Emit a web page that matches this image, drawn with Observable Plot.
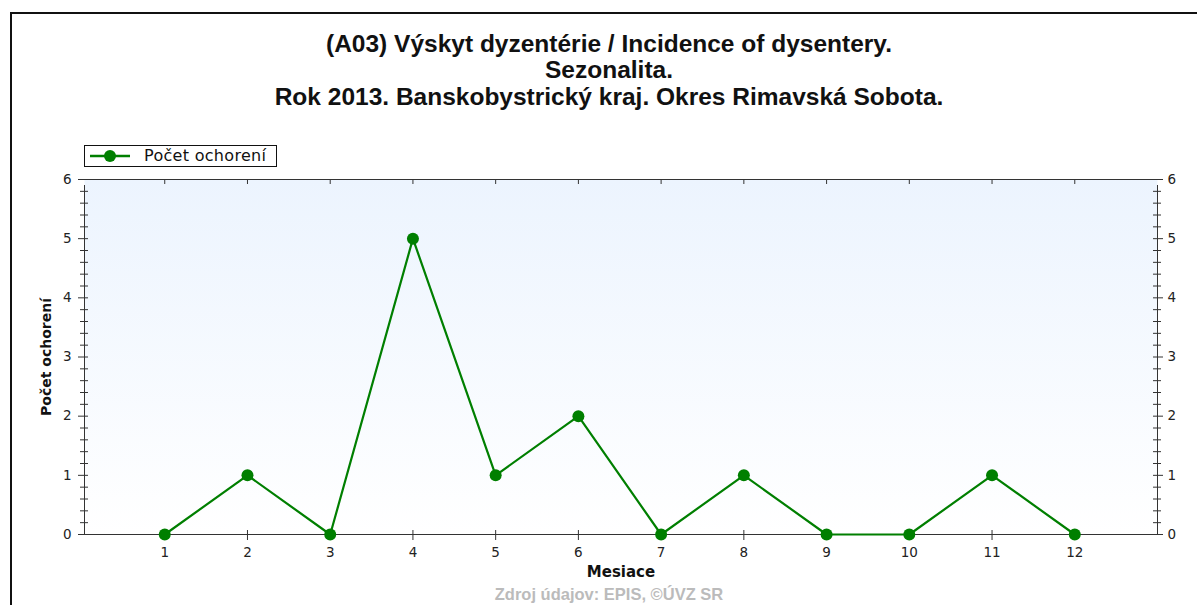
<!DOCTYPE html>
<html>
<head>
<meta charset="utf-8">
<script src="https://cdn.jsdelivr.net/npm/d3@7"></script>
<script src="https://cdn.jsdelivr.net/npm/@observablehq/plot@0.6"></script>
<style>
  html, body { margin: 0; padding: 0; background: #fff; }
  #wrap { position: relative; width: 1197px; height: 605px; overflow: hidden; font-family: "Liberation Sans", Arial, sans-serif; }
  #frame { position: absolute; left: 10px; top: 12px; width: 1300px; height: 700px; border-left: 2px solid #111; border-top: 2px solid #111; box-sizing: border-box; }
  .title { position: absolute; left: 0; width: 1218px; text-align: center; font-size: 24.5px; font-weight: bold; color: #111; white-space: nowrap; line-height: 27px; }
  #legend { position: absolute; left: 84px; top: 145px; width: 193px; height: 22px; border: 1px solid #111; background: #fff; box-sizing: border-box; }
  #legend svg { position: absolute; left: 0; top: 0; }
  #legend span { position: absolute; left: 59px; top: 0px; font-family: "DejaVu Sans", sans-serif; font-size: 16px; letter-spacing: 0.3px; color: #111; }
  #footer { position: absolute; left: 0; width: 1218px; top: 585px; text-align: center; font-size: 16.5px; line-height: 19px; font-weight: bold; color: #bbb; }
  #chart { position: absolute; left: 0; top: 0; }
</style>
</head>
<body>
<div id="wrap">
  <div id="chart"></div>
  <div id="frame"></div>
  <div class="title" id="t1" style="top:30px"></div>
  <div class="title" id="t2" style="top:56px"></div>
  <div class="title" id="t3" style="top:83px"></div>
  <div id="legend"><svg width="60" height="20"><line x1="5" x2="45" y1="10" y2="10" stroke="#007f00" stroke-width="2.5"/><circle cx="25" cy="10" r="6" fill="#007f00"/></svg><span id="legtext"></span></div>
  <div id="footer"></div>
</div>
<script>
const titleLines = [
  "(A03) Výskyt dyzentérie / Incidence of dysentery.",
  "Sezonalita.",
  "Rok 2013. Banskobystrický kraj. Okres Rimavská Sobota."
];
const seriesName = "Počet ochorení";
const xLabel = "Mesiace";
const yLabel = "Počet ochorení";
const footerText = "Zdroj údajov: EPIS, ©ÚVZ SR";
const months = [1, 2, 3, 4, 5, 6, 7, 8, 9, 10, 11, 12];
const cases = [0, 1, 0, 5, 1, 2, 0, 1, 0, 0, 1, 0];
const yMajorTicks = [0, 1, 2, 3, 4, 5, 6];

document.getElementById("t1").textContent = titleLines[0];
document.getElementById("t2").textContent = titleLines[1];
document.getElementById("t3").textContent = titleLines[2];
document.getElementById("legtext").textContent = seriesName;
document.getElementById("footer").textContent = footerText;

const data = months.map((m, i) => ({month: m, value: cases[i]}));
const xMin = 0.03, xMax = 13;
const yMinor = d3.range(0, 30).map(i => i / 5).filter(v => Math.abs(v - Math.round(v)) > 1e-6);
const axisColor = "#333";
const green = "#007f00";

const gradientMark = () => {
  const s = d3.create("svg:g");
  const g = s.append("defs").append("linearGradient").attr("id", "bgGrad").attr("x1", 0).attr("x2", 0).attr("y1", 0).attr("y2", 1);
  g.append("stop").attr("offset", "0%").attr("stop-color", "#ecf4fe");
  g.append("stop").attr("offset", "100%").attr("stop-color", "#ffffff");
  return s.node();
};

const tickFont = "'DejaVu Sans', sans-serif";

const chart = Plot.plot({
  width: 1197,
  height: 605,
  marginTop: 179,
  marginBottom: 71,
  marginLeft: 84,
  marginRight: 40,
  style: {fontFamily: tickFont, fontSize: "13.5px", color: "#222", background: "transparent"},
  x: {domain: [xMin, xMax]},
  y: {domain: [0, 6]},
  marks: [
    gradientMark,
    Plot.frame({fill: "url(#bgGrad)", stroke: "none"}),
    // axis labels (text only)
    Plot.axisY(yMajorTicks, {anchor: "left", tickSize: 0, tickPadding: 13, label: null, tickFormat: d3.format("d"), fontSize: 13.5}),
    Plot.axisY(yMajorTicks, {anchor: "right", tickSize: 0, tickPadding: 10, label: null, tickFormat: d3.format("d"), fontSize: 13.5}),
    Plot.axisX(months, {anchor: "bottom", tickSize: 0, tickPadding: 13, label: null, tickFormat: d3.format("d"), fontSize: 13.5}),
    // axis lines
    Plot.ruleX([xMin, xMax], {y1: 0, y2: 6, stroke: axisColor, insetBottom: -6}),
    Plot.ruleY([0, 6], {x1: xMin, x2: xMax, stroke: axisColor}),
    // left/right major ticks
    Plot.ruleY(yMajorTicks, {x1: xMin, x2: xMin, insetLeft: -6, insetRight: -4, stroke: axisColor}),
    Plot.ruleY(yMajorTicks, {x1: xMax, x2: xMax, insetLeft: -4, insetRight: -6, stroke: axisColor}),
    // minor ticks
    Plot.ruleY(yMinor, {x1: xMin, x2: xMin, insetLeft: -4, insetRight: -4, stroke: axisColor}),
    Plot.ruleY(yMinor, {x1: xMax, x2: xMax, insetLeft: -4, insetRight: -4, stroke: axisColor}),
    // x ticks bottom and top
    Plot.ruleX(months, {y1: 0, y2: 0, insetTop: -4, insetBottom: -6, stroke: axisColor}),
    Plot.ruleX(months, {y1: 6, y2: 6, insetTop: 0, insetBottom: -5, stroke: axisColor}),
    // data
    Plot.line(data, {x: "month", y: "value", stroke: green, strokeWidth: 2.2}),
    Plot.dot(data, {x: "month", y: "value", r: 6, fill: green, stroke: "none"}),
    // axis titles
    Plot.text([xLabel], {frameAnchor: "bottom", dy: 42, fontWeight: "bold", fontSize: 15, fill: "#111", fontFamily: tickFont}),
    Plot.text([yLabel], {frameAnchor: "left", dx: -38, rotate: -90, textAnchor: "middle", fontWeight: "bold", fontSize: 14, fill: "#111", fontFamily: tickFont})
  ]
});
document.getElementById("chart").appendChild(chart);
</script>
</body>
</html>
